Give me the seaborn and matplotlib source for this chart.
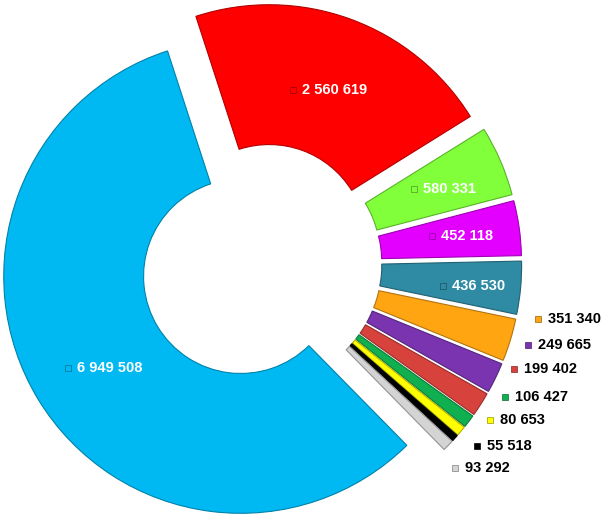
import numpy as np
import pandas as pd
import seaborn as sns
import matplotlib
matplotlib.use("Agg")
import matplotlib.pyplot as plt
import matplotlib.colors as mcolors

# ---- data ----
categories = ["A", "B", "C", "D", "E", "F", "G", "H", "I", "J", "K", "L"]
values = [2560619, 580331, 452118, 436530, 351340, 249665, 199402,
          106427, 80653, 55518, 93292, 6949508]
value_labels = ["2 560 619", "580 331", "452 118", "436 530", "351 340",
                "249 665", "199 402", "106 427", "80 653", "55 518",
                "93 292", "6 949 508"]

# ---- style ----
colors = ["#FF0000", "#80FF3A", "#E300FF", "#2F8AA3", "#FFA512",
          "#7A34B0", "#D8423C", "#10B050", "#FFFF00", "#000000",
          "#D4D4D4", "#00B9F2"]
inside = [True, True, True, True, False, False, False, False, False,
          False, False, True]
inside_r = [0.705, 0.76, 0.78, 0.82, 0, 0, 0, 0, 0, 0, 0, 0.67]
inside_dang = [-3.0, -1.4, 0.5, 0, 0, 0, 0, 0, 0, 0, 0, 3.0]
# outside label anchors (figure pixels: left edge of text, vertical centre)
outside_pos = {4: (548, 319), 5: (538, 345), 6: (524, 369), 7: (515, 397),
               8: (500, 420), 9: (487, 446), 10: (465, 468)}

W, H = 604, 522
CX, CY, RPX = 261, 264, 237
FS = 10.5

sns.set_theme(style="white")
plt.rcParams["font.family"] = ["Liberation Sans", "DejaVu Sans"]

df = pd.DataFrame({"cat": categories, "value": values, "label": value_labels})

fig = plt.figure(figsize=(W / 100, H / 100), dpi=100)
ax = fig.add_axes([0, 0, 1, 1])
wedges, _ = ax.pie(df["value"], colors=colors, startangle=108,
                   counterclock=False, explode=[0.1] * len(df),
                   wedgeprops=dict(width=0.59, linewidth=0.8))
for w, c in zip(wedges, colors):
    w.set_edgecolor(mcolors.to_hex(np.array(mcolors.to_rgb(c)) * 0.7))

ax.set_xlim(-CX / RPX, (W - CX) / RPX)
ax.set_ylim(-(H - CY) / RPX, CY / RPX)
ax.set_aspect("equal")
ax.axis("off")

fig.canvas.draw()
renderer = fig.canvas.get_renderer()

def marker_at(xpix, ypix, c):
    fx, fy = xpix / W, 1 - ypix / H
    edge = mcolors.to_hex(np.array(mcolors.to_rgb(c)) * 0.6)
    fig.add_artist(plt.Line2D([fx], [fy], marker="s", markersize=5,
                              color=c, markeredgecolor=edge,
                              markeredgewidth=0.5, transform=fig.transFigure))

for i, w in enumerate(wedges):
    lab = df["label"][i]
    if inside[i]:
        mid = np.deg2rad((w.theta1 + w.theta2) / 2 + inside_dang[i])
        cx, cy = w.center
        x = cx + inside_r[i] * np.cos(mid)
        y = cy + inside_r[i] * np.sin(mid) - 2.0 / RPX
        t = ax.text(x, y, lab, ha="center", va="center", color="white",
                    fontsize=FS, fontweight="bold")
        bb = t.get_window_extent(renderer)
        marker_at(bb.x0 - 9, H - (bb.y0 + bb.y1) / 2, colors[i])
    else:
        px, py = outside_pos[i]
        fig.text(px / W, 1 - py / H, lab, ha="left", va="center",
                 color="black", fontsize=FS, fontweight="bold")
        marker_at(px - 10, py, colors[i])

fig.savefig("out.png", dpi=100)
